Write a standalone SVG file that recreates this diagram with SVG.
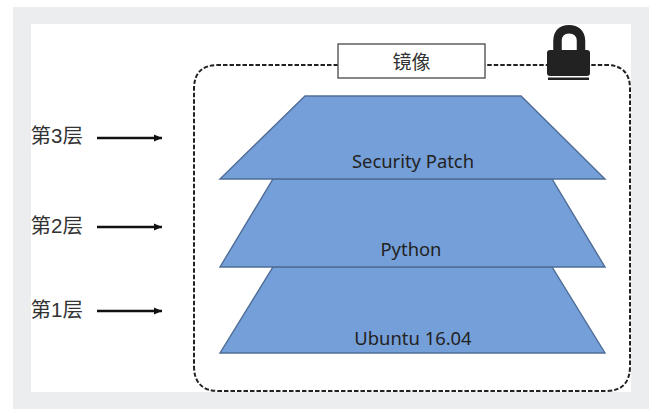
<svg xmlns="http://www.w3.org/2000/svg" width="656" height="415" viewBox="0 0 656 415">
<style>
.layer{fill:#759fd8;stroke:#4f6d96;stroke-width:1.4}
.t{font-family:"Liberation Sans","Noto Sans CJK SC",sans-serif;fill:#333;font-size:20.500px}
.c{font-family:"Noto Sans","Liberation Sans",sans-serif;fill:#222;font-size:18.400px;text-anchor:middle}
.a{stroke:#111;stroke-width:2.4;fill:none;marker-end:url(#ah)}
</style>
<defs><marker id="ah" markerUnits="userSpaceOnUse" markerWidth="9" markerHeight="9" refX="8" refY="4.5" orient="auto"><path d="M0 1L8 4.500L0 8z" fill="#111"/></marker></defs>
<rect width="656" height="415" fill="#fff"/>
<rect x="13" y="7" width="636" height="402" fill="#ecedef"/>
<rect x="31" y="24" width="600" height="368" fill="#fff"/>
<g id="connectors">
<path d="M338 65H218Q194 65 194 89V366Q194 391 219 391H606Q630 391 630 366V89Q630 65 606 65H485" fill="none" stroke="#222" stroke-width="2" stroke-dasharray="4.5 2"/>
<path class="a" d="M97 138H162"/>
<path class="a" d="M97 227H162"/>
<path class="a" d="M97 311H162"/>
</g>
<g id="layer1"><path class="layer" d="M273 267H552L605 353H220z"/><text class="c" x="413" y="345">Ubuntu 16.04</text></g>
<g id="layer2"><path class="layer" d="M273 179H552L605 267H220z"/><text class="c" x="411" y="256">Python</text></g>
<g id="layer3"><path class="layer" d="M305 96H521L605 179H220z"/><text class="c" x="413" y="168">Security Patch</text></g>
<g id="image"><rect x="338" y="44" width="147" height="34" fill="#fff" stroke="#555" stroke-width="1.4"/><text x="411.500" y="69" text-anchor="middle" style="font-family:'Noto Sans CJK SC',sans-serif;font-size:19px;fill:#333">镜像</text></g>
<g id="lock"><path d="M557.500 52V41C557.500 33 562 29.200 569 29.200C576 29.200 581 33 581 41V52" fill="none" stroke="#222" stroke-width="8.500"/><rect x="547" y="50" width="43" height="26" rx="3" fill="#222"/><rect x="548" y="77.500" width="41" height="2.500" fill="#222"/></g>
<g id="l3"><text class="t" x="30.500" y="143">第3层</text></g>
<g id="l2"><text class="t" x="30.500" y="233">第2层</text></g>
<g id="l1"><text class="t" x="30.500" y="317">第1层</text></g>
</svg>
